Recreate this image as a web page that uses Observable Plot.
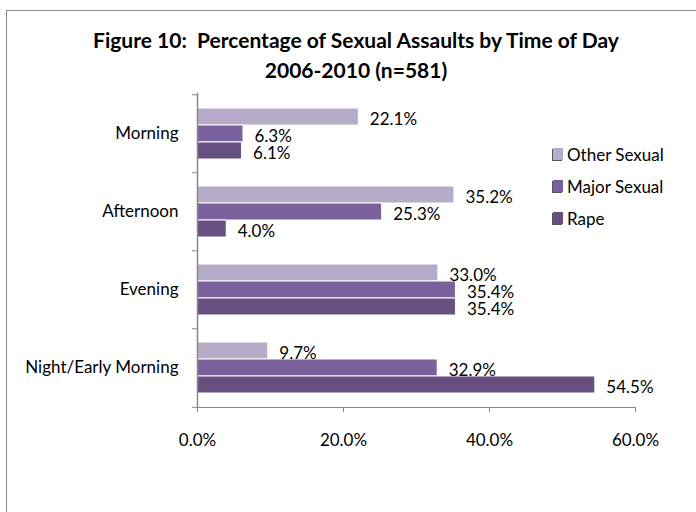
<!DOCTYPE html>
<html><head><meta charset="utf-8">
<script src="https://cdn.jsdelivr.net/npm/d3@7"></script>
<script src="https://cdn.jsdelivr.net/npm/@observablehq/plot@0.6"></script>
<style>
body{margin:0;background:#fff;}
#wrap{position:relative;width:696px;height:512px;overflow:hidden;font-family:Lato,"Liberation Sans",sans-serif;color:#000;}
#border{position:absolute;left:6px;top:10px;width:800px;height:700px;border:1.5px solid #8a8a8a;box-sizing:border-box;}
#chart{position:absolute;left:0;top:0;}
#title{position:absolute;left:10px;width:692px;top:25px;text-align:center;font-weight:bold;font-size:21px;line-height:30px;white-space:pre;}
#legend{position:absolute;left:553px;top:138px;font-size:17px;}
.item{display:flex;align-items:center;height:32px;}
.sw{width:10px;height:12px;margin-right:4px;box-shadow:-1px 1px 0 #555;}
</style></head>
<body><div id="wrap"><div id="border"></div><div id="chart"></div><div id="title"></div><div id="legend"></div></div>
<script>
const categories = ["Morning", "Afternoon", "Evening", "Night/Early Morning"];
const seriesNames = ["Other Sexual", "Major Sexual", "Rape"];
const otherSexual = [22.1, 35.2, 33.0, 9.7];
const majorSexual = [6.3, 25.3, 35.4, 32.9];
const rape = [6.1, 4.0, 35.4, 54.5];
const xTicks = [0, 20, 40, 60];
const seriesColors = ["#b6abc8", "#7b619b", "#674f80"];
const titleLines = ["Figure 10:  Percentage of Sexual Assaults by Time of Day", "2006-2010 (n=581)"];

const seriesValues = [otherSexual, majorSexual, rape];
const rows = [];
seriesNames.forEach((s, si) => categories.forEach((c, ci) => rows.push({series: s, si, category: c, value: seriesValues[si][ci]})));

const slot = 17;
const fmt = d => d.toFixed(1) + "%";
const marks = [];
seriesNames.forEach((s, si) => {
  const data = rows.filter(r => r.si === si);
  marks.push(Plot.barX(data, {x: "value", y: "category", fill: "series", stroke: "white", strokeWidth: 1,
    insetTop: si * slot, insetBottom: (2 - si) * slot}));
});
seriesNames.forEach((s, si) => {
  const data = rows.filter(r => r.si === si);
  marks.push(Plot.text(data, {x: "value", y: "category", text: d => fmt(d.value), dx: 11, dy: (si - 1) * slot + 3,
    textAnchor: "start", fontSize: 17, fill: "#000"}));
});

const chart = Plot.plot({
  width: 696, height: 512,
  marginLeft: 197, marginRight: 61, marginTop: 93, marginBottom: 105,
  style: {fontFamily: "Lato, 'Liberation Sans', sans-serif", fontSize: "17px", background: "transparent", color: "#000"},
  x: {domain: [0, 60], ticks: xTicks, tickFormat: fmt, tickSize: 5, tickPadding: 21, label: null},
  y: {domain: categories, paddingInner: 0.35, paddingOuter: 0.175, tickSize: 0, tickPadding: 19, label: null},
  color: {domain: seriesNames, range: seriesColors},
  marks: [
    ...marks,
    Plot.axisX({ticks: xTicks, tickFormat: fmt, tickSize: 5, tickPadding: 21, stroke: "#888", fontSize: 17, label: null}),
    Plot.axisY({tickSize: 0, tickPadding: 19, fontSize: 17, label: null}),
    Plot.frame({anchor: "bottom", stroke: "#888"}),
    Plot.frame({anchor: "left", stroke: "#888", strokeWidth: 1.5}),
    Plot.ruleY(categories, {y: d => d, x1: 0, x2: 0, insetLeft: -5, dy: -39.25, stroke: "#888"}),
    Plot.ruleY(categories.slice(-1), {y: d => d, x1: 0, x2: 0, insetLeft: -5, dy: 39.25, stroke: "#888"})
  ]
});
document.getElementById("chart").appendChild(chart);

const t = document.getElementById("title");
titleLines.forEach(l => { const d = document.createElement("div"); d.textContent = l; t.appendChild(d); });
const lg = document.getElementById("legend");
seriesNames.forEach((s, i) => {
  const it = document.createElement("div"); it.className = "item";
  const sw = document.createElement("span"); sw.className = "sw"; sw.style.background = seriesColors[i];
  const tx = document.createElement("span"); tx.textContent = s;
  it.appendChild(sw); it.appendChild(tx); lg.appendChild(it);
});
</script></body></html>
